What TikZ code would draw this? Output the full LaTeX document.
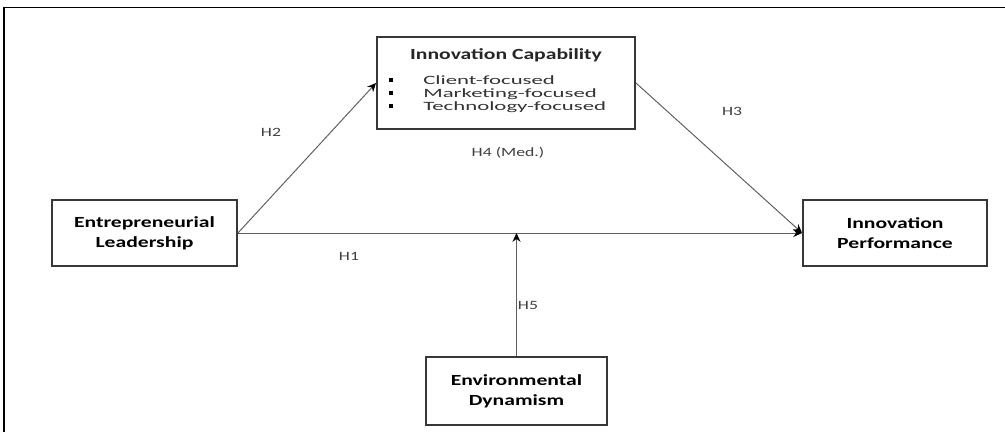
\documentclass[tikz,border=0pt]{standalone}
\usepackage{fontspec}
\setmainfont{Carlito}[FakeStretch=1.4]
\newfontfamily\itemfont{Carlito}[FakeStretch=1.8]
\usepackage{tikz}
\usetikzlibrary{arrows.meta,calc}
\definecolor{boxline}{RGB}{55,55,55}
\definecolor{arrowgray}{RGB}{95,95,95}
\tikzset{
  framebox/.style={draw=black, line width=1.4pt},
  varbox/.style={rectangle, draw=boxline, line width=1.3pt, fill=white, align=center,
                 font=\fontsize{11}{14}\selectfont\bfseries},
  arrow/.style={-{Stealth[length=2.2mm, width=2mm, black]}, draw=arrowgray, line width=0.7pt},
  hyp/.style={font=\fontsize{9}{11}\selectfont, text=black!75},
  item/.style={anchor=west, font=\itemfont\fontsize{9}{10}\selectfont, text=black!80,
               inner sep=0pt, text height=6.3pt, text depth=1.8pt},
  bullet/.style={rectangle, fill=black, minimum size=3pt, inner sep=0pt},
}
\begin{document}
\begin{tikzpicture}[x=0.025cm, y=-0.025cm]
\useasboundingbox (0,0) rectangle (1005,432);
\clip (0,0) rectangle (1005,432);
\draw[framebox] (4,7.5) rectangle (1020,445);

% variable boxes
\node[varbox, minimum width=6.45cm, minimum height=2.3cm] (cap) at (506,83) {};
\node[font=\fontsize{11}{14}\selectfont\bfseries, text=black!85] (capname) at (506,55) {Innovation Capability};
\foreach \y/\txt [count=\i] in {81/Client-focused, 94/Marketing-focused, 107/Technology-focused} {
  \node[bullet] (dot\i) at (391,\y-1) {};
  \node[item] (cap\i) at (423,\y) {\txt};
}
\node[varbox, minimum width=4.625cm, minimum height=1.65cm] (lead) at (144.5,233) {Entrepreneurial\\Leadership};
\node[varbox, minimum width=4.6cm, minimum height=1.65cm] (perf) at (895,233) {Innovation\\Performance};
\node[varbox, minimum width=4.525cm, minimum height=1.7cm] (dyn) at (516.5,391) {Environmental\\Dynamism};

% paths
\coordinate (mod) at (dyn.north |- lead.east);
\draw[arrow] (lead.east) -- (perf.west);
\draw[arrow] (lead.east) -- (cap.west);
\draw[arrow] (cap.east) -- (perf.west);
\draw[arrow] (dyn.north) -- (mod);

% hypotheses
\node[hyp] (h1) at (349,256) {H1};
\node[hyp] (h2) at (271,132) {H2};
\node[hyp] (h3) at (732,111) {H3};
\node[hyp] (h4) at (508,153) {H4 (Med.)};
\node[hyp] (h5) at (528,305) {H5};
\end{tikzpicture}
\end{document}
